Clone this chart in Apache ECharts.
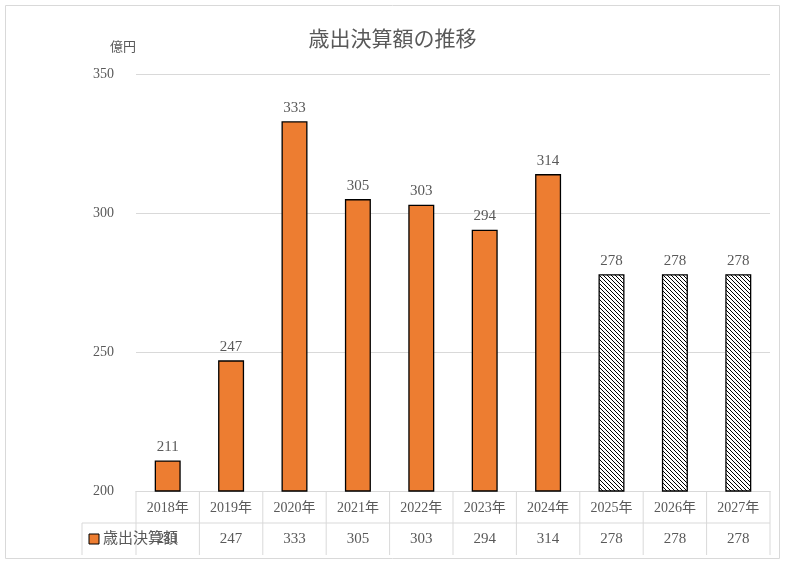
<!DOCTYPE html>
<html><head><meta charset="utf-8">
<script src="https://cdn.jsdelivr.net/npm/echarts@6/dist/echarts.min.js"></script>
<style>body{margin:0}#c{width:785px;height:565px}</style>
</head><body><div id="c"></div>
<script>
var years = ["2018年","2019年","2020年","2021年","2022年","2023年","2024年","2025年","2026年","2027年"];
var values = [211, 247, 333, 305, 303, 294, 314, 278, 278, 278];
var forecastFrom = 7;
var seriesName = "歳出決算額";

var FONT = "'Liberation Serif','Noto Sans CJK JP',serif";
var TXT = "#595959";
var LINE = "#d9d9d9";

// 斜線パターン
var cv = document.createElement("canvas");
cv.width = 4; cv.height = 4;
var ctx = cv.getContext("2d");
ctx.fillStyle = "#fff"; ctx.fillRect(0, 0, 4, 4);
ctx.strokeStyle = "#000"; ctx.lineWidth = 1;
ctx.beginPath(); ctx.moveTo(0, 0); ctx.lineTo(4, 4); ctx.moveTo(-1, 3); ctx.lineTo(1, 5); ctx.moveTo(3, -1); ctx.lineTo(5, 1); ctx.stroke();

var barData = values.map(function (v, i) {
  return {
    value: v,
    itemStyle: i >= forecastFrom ? { color: { image: cv, repeat: "repeat" } } : {}
  };
});

var chart = echarts.init(document.getElementById("c"));
chart.setOption({
  animation: false,
  textStyle: { fontFamily: FONT },
  title: { text: "歳出決算額の推移", left: "center", top: 25,
    textStyle: { fontSize: 21, fontWeight: "normal", color: TXT, fontFamily: FONT } },
  grid: { left: 136, right: 15, top: 74, bottom: 74 },
  xAxis: {
    type: "category", data: years,
    axisLine: { lineStyle: { color: LINE } },
    axisTick: { show: false },
    axisLabel: { color: TXT, fontSize: 14, margin: 10, fontFamily: FONT }
  },
  yAxis: {
    type: "value", min: 200, max: 350, interval: 50,
    name: "億円", nameGap: 20,
    nameTextStyle: { color: TXT, fontSize: 13, align: "right", padding: [0, 0, 0, 0] },
    axisLabel: { color: TXT, fontSize: 14, margin: 22, fontFamily: FONT },
    splitLine: { lineStyle: { color: LINE } }
  },
  series: [{
    name: seriesName, type: "bar", data: barData, barWidth: "41%",
    itemStyle: { color: "#ed7d31", borderColor: "#000", borderWidth: 1.3 },
    label: { show: true, position: "top", color: TXT, fontSize: 15, fontFamily: FONT, distance: 6 }
  }]
});

// データテーブル
var top0 = chart.convertToPixel({ yAxisIndex: 0 }, 200);
var half = chart.convertToPixel({ xAxisIndex: 0 }, years[1]) - chart.convertToPixel({ xAxisIndex: 0 }, years[0]);
half = half / 2;
var rowH = 32;
var g = [];
var ls = { stroke: LINE, lineWidth: 1 };
var x0 = chart.convertToPixel({ xAxisIndex: 0 }, years[0]) - half;
var x1 = chart.convertToPixel({ xAxisIndex: 0 }, years[years.length - 1]) + half;
g.push({ type: "line", shape: { x1: 82, y1: top0 + rowH, x2: x1, y2: top0 + rowH }, style: ls });
g.push({ type: "line", shape: { x1: 82, y1: top0 + rowH, x2: 82, y2: top0 + 2 * rowH }, style: ls });
years.forEach(function (y, i) {
  var cx = chart.convertToPixel({ xAxisIndex: 0 }, y);
  g.push({ type: "line", shape: { x1: cx - half, y1: top0, x2: cx - half, y2: top0 + 2 * rowH }, style: ls });
  g.push({ type: "text", x: cx, y: top0 + rowH * 1.5,
    style: { text: String(values[i]), fill: TXT, font: "15px " + FONT, align: "center", verticalAlign: "middle" } });
});
g.push({ type: "line", shape: { x1: x1, y1: top0, x2: x1, y2: top0 + 2 * rowH }, style: ls });
g.push({ type: "rect", shape: { x: 89, y: top0 + rowH * 1.5 - 5, width: 10, height: 10 },
  style: { fill: "#ed7d31", stroke: "#000", lineWidth: 1 } });
g.push({ type: "text", x: 103, y: top0 + rowH * 1.5,
  style: { text: seriesName, fill: TXT, font: "15px " + FONT, verticalAlign: "middle" } });
g.push({ type: "rect", shape: { x: 5.5, y: 5.5, width: 774, height: 553 }, style: { fill: null, stroke: LINE, lineWidth: 1 } });
chart.setOption({ graphic: g });
</script></body></html>
